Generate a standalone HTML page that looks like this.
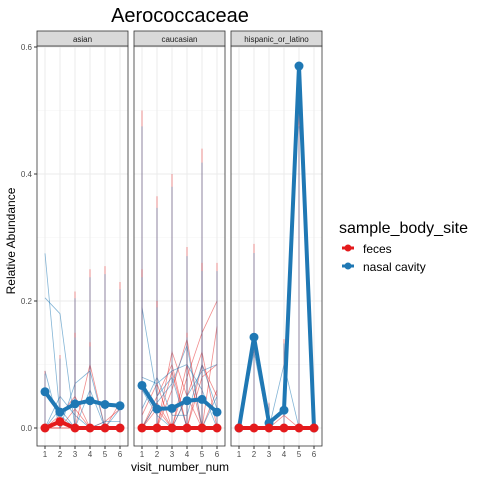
<!DOCTYPE html>
<html><head><meta charset="utf-8"><style>
body{margin:0;background:#fff;font-family:"Liberation Sans",sans-serif}
</style></head><body>
<svg id="c" width="480" height="480" xmlns="http://www.w3.org/2000/svg" font-family="Liberation Sans, sans-serif">
<text x="180" y="22" font-size="20" text-anchor="middle">Aerococcaceae</text>
<text transform="translate(15,241) rotate(-90)" font-size="12" text-anchor="middle">Relative Abundance</text>
<text x="180" y="471" font-size="12" text-anchor="middle">visit_number_num</text>
<g>
<text x="339" y="233" font-size="16">sample_body_site</text>
<g><line x1="342" y1="248" x2="354" y2="248" stroke="#e41a1c" stroke-width="3"/><circle cx="348" cy="248" r="3.5" fill="#e41a1c"/><text x="363" y="253" font-size="12">feces</text></g>
<g><line x1="342" y1="266" x2="354" y2="266" stroke="#1f78b4" stroke-width="3"/><circle cx="348" cy="266" r="3.5" fill="#1f78b4"/><text x="363" y="271" font-size="12">nasal cavity</text></g>
</g>
<g id="plots"></g>
</svg>
<script>
const panels=["asian","caucasian","hispanic_or_latino"];
const visits=[1,2,3,4,5,6];
const yTicks=[0,0.2,0.4,0.6];
const yTickLabels=["0.0","0.2","0.4","0.6"];
const meanFeces=[[0,0.01,0,0,0,0],[0,0,0,0,0,0],[0,0,0,0,0,0]];
const meanNasal=[[0.057,0.025,0.038,0.043,0.037,0.035],[0.067,0.03,0.031,0.043,0.045,0.025],[0,0.143,0.008,0.028,0.57,0]];
const subjFeces=[
[[0,0.02,0.05,0,0,0],[0,0,0,0.1,0,0],[0,0,0.03,0,0,0.04],[0,0,0,0,0.01,0.03]],
[[0,0.05,0.1,0,0,0],[0,0,0.06,0.14,0,0],[0,0,0,0.08,0.15,0.2],[0,0.03,0,0.05,0.12,0],[0,0,0.09,0,0.08,0.1],[0.02,0.07,0,0.1,0,0.06],[0,0,0.12,0.05,0,0.16],[0,0.04,0,0,0.1,0.05]],
[[0,0,0,0.02,0,0]]];
const subjNasal=[
[[0.275,0.02,0,0,0,0],[0.205,0.18,0,0,0,0],[0.09,0,0.07,0.09,0,0],[0,0.05,0.02,0,0.01,0.01],[0,0.03,0,0.06,0,0.03]],
[[0.19,0.05,0.08,0,0,0],[0.08,0.07,0.09,0.1,0.06,0],[0.06,0.02,0,0.05,0.09,0.1],[0.03,0.08,0.02,0.02,0.1,0.03],[0,0.04,0.07,0.13,0,0.05]],
[[0,0.12,0,0,0,0],[0,0,0,0.1,0,0]]];
const spikeVisit=[[1,2,3,3,4,4,5,6],[1,2,3,4,4,5,5,6,1,2],[2,3,4,5]];
const spikeValue=[[0.09,0.115,0.215,0.15,0.25,0.135,0.255,0.23],[0.5,0.365,0.4,0.285,0.15,0.44,0.26,0.26,0.25,0.2],[0.29,0.04,0.14,0.5]];
const NS="http://www.w3.org/2000/svg";
const g=document.getElementById("plots");
const X0=[37,134,231],PW=91,Y0=46,Y1=446;
function ys(v){return 428-v/0.6*381;}
function xs(p,v){return X0[p]+8+(v-1)*(PW-16)/5;}
function mk(t,a,par){const e=document.createElementNS(NS,t);for(const k in a)e.setAttribute(k,a[k]);(par||g).appendChild(e);return e;}
function path(p,arr){return arr.map((v,i)=>(i?"L":"M")+xs(p,visits[i]).toFixed(1)+","+ys(v).toFixed(1)).join("");}
panels.forEach((name,p)=>{
 const pg=mk("g",{});
 
 
 mk("rect",{x:X0[p],y:Y0,width:PW,height:Y1-Y0,fill:"#fff"},pg);
 [0.1,0.3,0.5].forEach(v=>mk("line",{x1:X0[p],x2:X0[p]+PW,y1:ys(v),y2:ys(v),stroke:"#f4f4f4","stroke-width":0.6},pg));
 yTicks.forEach(v=>mk("line",{x1:X0[p],x2:X0[p]+PW,y1:ys(v),y2:ys(v),stroke:"#ebebeb","stroke-width":1},pg));
 visits.forEach(v=>mk("line",{x1:xs(p,v),x2:xs(p,v),y1:Y0,y2:Y1,stroke:"#ebebeb","stroke-width":1},pg));
 subjFeces[p].forEach(s=>mk("path",{d:path(p,s),fill:"none",stroke:"#e41a1c","stroke-opacity":0.5,"stroke-width":0.8},pg));
 subjNasal[p].forEach(s=>mk("path",{d:path(p,s),fill:"none",stroke:"#1f78b4","stroke-opacity":0.55,"stroke-width":0.8},pg));
 spikeVisit[p].forEach((v,i)=>{
  mk("line",{x1:xs(p,v),x2:xs(p,v),y1:ys(0),y2:ys(spikeValue[p][i]),stroke:"#e41a1c","stroke-opacity":0.45,"stroke-width":1},pg);
  mk("line",{x1:xs(p,v),x2:xs(p,v),y1:ys(0),y2:ys(spikeValue[p][i]*0.95),stroke:"#1f78b4","stroke-opacity":0.45,"stroke-width":1},pg);
 });
 const bl=mk("path",{d:path(p,meanNasal[p]),fill:"none",stroke:"#1f78b4","stroke-width":4,"stroke-linejoin":"round"},pg);
 
 
 meanNasal[p].forEach((v,i)=>mk("circle",{cx:xs(p,visits[i]),cy:ys(v),r:4.5,fill:"#1f78b4"},pg));
 const rl=mk("path",{d:path(p,meanFeces[p]),fill:"none",stroke:"#e41a1c","stroke-width":4,"stroke-linejoin":"round"},pg);
 
 
 meanFeces[p].forEach((v,i)=>mk("circle",{cx:xs(p,visits[i]),cy:ys(v),r:4.5,fill:"#e41a1c"},pg));
 mk("rect",{x:X0[p],y:Y0,width:PW,height:Y1-Y0,fill:"none",stroke:"#333","stroke-width":0.8},pg);
 const st=mk("rect",{x:X0[p],y:31,width:PW,height:15,fill:"#d9d9d9",stroke:"#333","stroke-width":0.8},pg);
 
 
 const tt=mk("text",{x:X0[p]+PW/2,y:42,"font-size":8,fill:"#1a1a1a","text-anchor":"middle"},pg);tt.textContent=name;
 visits.forEach(v=>{mk("line",{x1:xs(p,v),x2:xs(p,v),y1:Y1,y2:Y1+3,stroke:"#333"},pg);
  const t=mk("text",{x:xs(p,v),y:457,"font-size":8,fill:"#4d4d4d","text-anchor":"middle"},pg);t.textContent=v;});
});
yTicks.forEach((v,i)=>{mk("line",{x1:34,x2:37,y1:ys(v),y2:ys(v),stroke:"#333"});
 const t=mk("text",{x:32,y:ys(v)+3,"font-size":8,fill:"#4d4d4d","text-anchor":"end"});t.textContent=yTickLabels[i];});
</script>
</body></html>
